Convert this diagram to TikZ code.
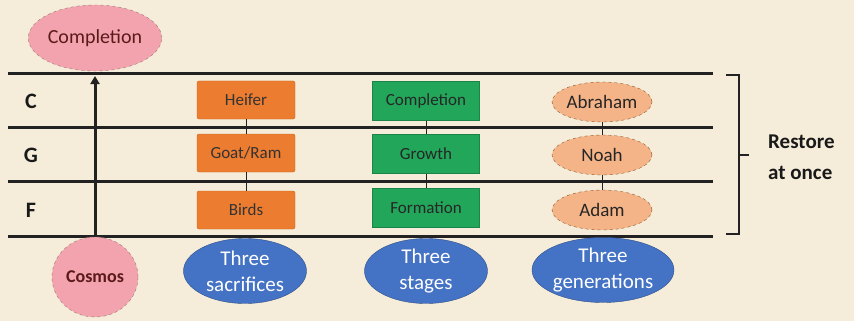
\documentclass[tikz,border=0pt]{standalone}
\usepackage{fontspec}
\setmainfont{Carlito}
\usetikzlibrary{shapes.geometric,arrows.meta}
\definecolor{bg}{HTML}{F5EDD9}
\definecolor{orangefill}{HTML}{EC7C30}
\definecolor{orangeedge}{HTML}{C9651F}
\definecolor{greenfill}{HTML}{22A65A}
\definecolor{peachfill}{HTML}{F4B488}
\definecolor{pinkfill}{HTML}{F3A3AE}
\definecolor{bluefill}{HTML}{4472C4}
\definecolor{darkline}{HTML}{222222}
\definecolor{darkred}{HTML}{5A1A1A}
\tikzset{
  sacbox/.style={draw=orangeedge, fill=orangefill, rounded corners=2pt, minimum width=98pt, minimum height=38pt, inner sep=0pt, font=\fontsize{17}{19}\selectfont, text=black!80},
  stagebox/.style={draw=greenfill!80!black, fill=greenfill, minimum width=107pt, minimum height=39pt, inner sep=0pt, font=\fontsize{17}{19}\selectfont, text=black!85},
  genell/.style={ellipse, draw=brown!70!black, dashed, fill=peachfill, minimum width=100pt, minimum height=40pt, inner sep=0pt, font=\fontsize{19}{21}\selectfont, text=black!85},
  blueell/.style={ellipse, draw=bluefill!70!black, fill=bluefill, minimum width=123pt, minimum height=65pt, inner sep=0pt, align=center, font=\fontsize{21}{26}\selectfont, text=white},
  pinkell/.style={ellipse, draw=darkred!60, dashed, fill=pinkfill, inner sep=0pt, font=\fontsize{20}{22}\selectfont, text=darkred},
  rowlabel/.style={font=\bfseries\fontsize{22}{24}\selectfont, text=black!90},
  rule/.style={darkline, line width=3pt},
  link/.style={darkline, line width=1pt}
}
\begin{document}
\begin{tikzpicture}[x=1pt,y=-1pt]
\fill[bg] (0,0) rectangle (854,321);
\useasboundingbox (0,0) rectangle (854,321);
% horizontal rules
\foreach \yy in {74,127,181,236} \draw[rule] (8,\yy) -- (713,\yy);
% row labels
\node[rowlabel] (lc) at (31,101) {C};
\node[rowlabel] (lg) at (31,155) {G};
\node[rowlabel] (lf) at (31,210) {F};
% pink ellipses
\node[pinkell, minimum width=122pt, minimum height=66pt] (compl) at (95,38) {Completion};
\node[pinkell, minimum width=86pt, minimum height=80pt, font=\bfseries\fontsize{18}{20}\selectfont] (cosmos) at (95,277) {Cosmos};
\draw[darkline, line width=3pt, -{Triangle[length=8pt,width=9pt]}] (cosmos.north) -- (95,76);
% sacrifices
\node[sacbox] (heifer) at (246,100) {Heifer};
\node[sacbox] (goat) at (246,153) {Goat/Ram};
\node[sacbox] (birds) at (246,210) {Birds};
\draw[link] (heifer) -- (goat);
\draw[link] (goat) -- (birds);
% stages
\node[stagebox] (scompl) at (426,101) {Completion};
\node[stagebox] (growth) at (426,154) {Growth};
\node[stagebox] (form) at (426,208) {Formation};
\draw[link] (scompl) -- (growth);
\draw[link] (growth) -- (form);
% generations
\node[genell] (abr) at (602,102) {Abraham};
\node[genell] (noah) at (602,155) {Noah};
\node[genell] (adam) at (602,210) {Adam};
\draw[link] (abr) -- (noah);
\draw[link] (noah) -- (adam);
% blue ellipses
\node[blueell] (tsac) at (245,271) {Three\\sacrifices};
\node[blueell] (tsta) at (426,271) {Three\\stages};
\node[blueell] (tgen) at (603,270) {Three\\generations};
% bracket
\coordinate (bt) at (726,75);
\coordinate (bb) at (726,234);
\coordinate (bm) at (739,155);
\draw[darkline, line width=2pt] (bt) -- (739,75) -- (739,234) -- (bb);
\draw[darkline, line width=2pt] (bm) -- (749,155);
\node[anchor=west, align=left, font=\bfseries\fontsize{21}{31}\selectfont, text=black!90, inner sep=0pt] (restore) at (768,157) {Restore\\at once};
\end{tikzpicture}
\end{document}
